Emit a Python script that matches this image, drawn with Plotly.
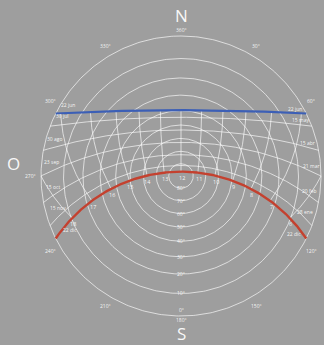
import numpy as np
import plotly.graph_objects as go

# ---- data ----
LATITUDE = -27.0  # southern-hemisphere site
DATE_LEFT = ["22 jun", "30 jul", "30 ago", "23 sep", "15 oct", "15 nov", "22 dic"]
DATE_RIGHT = ["22 jun", "15 may", "15 abr", "21 mar", "20 feb", "28 ene", "22 dic"]
DECLINATIONS = [23.44, 18.5, 9.4, 0.0, -9.7, -18.4, -23.44]
HOURS = [6, 7, 8, 9, 10, 11, 12, 13, 14, 15, 16, 17, 18]
ALT_CIRCLES = [0, 10, 20, 30, 40, 50, 60, 70, 80]
ALT_LABELS = ["0°", "10°", "20°", "30°", "40°", "50°", "60°", "70°", "80°"]
AZ_TICKS = [0, 30, 60, 90, 120, 150, 180, 210, 240, 270, 300, 330]
AZ_LABELS = ["360°", "30°", "60°", "90°", "120°", "150°", "180°", "210°", "240°", "270°", "300°", "330°"]
CARDINALS = {"N": 0, "S": 180, "O": 270}

BG = "#9e9e9e"
GRID = "rgba(255,255,255,0.72)"
TXT = "rgba(255,255,255,0.92)"
BLUE = "#3c5fb6"
RED = "#c4412f"
LABEL_ALT = 5.0  # altitude along each date line where its label sits

phi = np.radians(LATITUDE)


def sun(dec_deg, ha_deg):
    d = np.radians(dec_deg)
    h = np.radians(ha_deg)
    s_alt = np.sin(phi) * np.sin(d) + np.cos(phi) * np.cos(d) * np.cos(h)
    alt = np.degrees(np.arcsin(np.clip(s_alt, -1, 1)))
    az = np.degrees(np.arctan2(-np.sin(h) * np.cos(d),
                               np.cos(phi) * np.sin(d) - np.sin(phi) * np.cos(d) * np.cos(h)))
    return alt, az % 360


def proj(alt, az):
    r = np.tan(np.radians(90 - np.asarray(alt)) / 2)
    a = np.radians(az)
    return r * np.sin(a), r * np.cos(a)


def hour_angle_at(dec, alt):
    d = np.radians(dec)
    c = (np.sin(np.radians(alt)) - np.sin(phi) * np.sin(d)) / (np.cos(phi) * np.cos(d))
    return np.degrees(np.arccos(np.clip(c, -1, 1)))


fig = go.Figure()

# altitude circles
t = np.linspace(0, 360, 361)
for alt in ALT_CIRCLES:
    x, y = proj(np.full_like(t, alt), t)
    fig.add_trace(go.Scatter(x=x, y=y, mode="lines", line=dict(color=GRID, width=0.9),
                             hoverinfo="skip", showlegend=False))

# hour lines
for hr in HOURS:
    ha = 15 * (hr - 12)
    decs = np.linspace(-23.44, 23.44, 300)
    alt, az = sun(decs, np.full_like(decs, ha))
    keep = alt >= 0
    x, y = proj(alt[keep], az[keep])
    if not keep.all():
        dh = np.degrees(np.arctan(-np.cos(phi) * np.cos(np.radians(ha)) / np.sin(phi)))
        a0, z0 = sun(dh, ha)
        x0, y0 = proj(0.0, z0)
        if keep[0]:
            x, y = np.append(x, x0), np.append(y, y0)
        else:
            x, y = np.insert(x, 0, x0), np.insert(y, 0, y0)
    fig.add_trace(go.Scatter(x=x, y=y, mode="lines", line=dict(color=GRID, width=0.9),
                             hoverinfo="skip", showlegend=False))

# date lines
for i, dec in enumerate(DECLINATIONS):
    hs = hour_angle_at(dec, 0.0)
    ha = np.linspace(-hs, hs, 361)
    alt, az = sun(np.full_like(ha, dec), ha)
    alt = np.clip(alt, 0, 90)
    x, y = proj(alt, az)
    if i == 0:
        col, w = BLUE, 2.2
    elif i == len(DECLINATIONS) - 1:
        col, w = RED, 2.4
    else:
        col, w = GRID, 0.9
    fig.add_trace(go.Scatter(x=x, y=y, mode="lines", line=dict(color=col, width=w),
                             hoverinfo="skip", showlegend=False))

ann = []
small = dict(family="Open Sans, Arial", size=5, color=TXT)

# date labels, placed near the horizon end of each date line
n = len(DECLINATIONS)
for i, (dec, lt, rt) in enumerate(zip(DECLINATIONS, DATE_LEFT, DATE_RIGHT)):
    hl = hour_angle_at(dec, LABEL_ALT)
    last = i == n - 1
    a, z = sun(dec, hl)          # west (afternoon) side
    xw, yw = proj(a, z)
    a, z = sun(dec, -hl)         # east (morning) side
    xe, ye = proj(a, z)
    ann.append(dict(x=float(xw), y=float(yw), text=lt, showarrow=False,
                    xshift=6 if last else -1, yshift=-2 if last else 8, font=small))
    ann.append(dict(x=float(xe), y=float(ye), text=rt, showarrow=False,
                    xshift=-4 if last else 2, yshift=-6 if last else 4, font=small))

# hour labels along the 22 dic path
for hr in HOURS:
    alt, az = sun(DECLINATIONS[-1], 15 * (hr - 12))
    x, y = proj(alt, az)
    ann.append(dict(x=float(x), y=float(y), text=str(hr), showarrow=False, yshift=-6,
                    xshift=1, font=dict(family="Open Sans, Arial", size=5.5, color=TXT)))

# altitude labels (toward south)
for alt, lab in zip(ALT_CIRCLES, ALT_LABELS):
    x, y = proj(alt, 180)
    ann.append(dict(x=float(x), y=float(y), text=lab, showarrow=False, yshift=6 if alt == 0 else 0,
                    font=small))

# azimuth labels
for az, lab in zip(AZ_TICKS, AZ_LABELS):
    a = np.radians(az)
    r = {0: 1.04, 180: 1.025}.get(az, 1.075)
    ann.append(dict(x=r * np.sin(a), y=r * np.cos(a), text=lab, showarrow=False,
                    font=small))

# cardinal letters
for lab, az in CARDINALS.items():
    a = np.radians(az)
    r = {"N": 1.15, "S": 1.125, "O": 1.2}[lab]
    ann.append(dict(x=r * np.sin(a), y=r * np.cos(a) + (0.09 if lab == "O" else 0), text=lab,
                    showarrow=False, borderpad=0,
                    font=dict(family="Open Sans, Arial", size=17, color="rgba(255,255,255,0.95)")))

R = 140.0
cx, cy = 181.0, 176.0
fig.update_layout(
    width=324, height=345, margin=dict(l=0, r=0, t=0, b=0),
    paper_bgcolor=BG, plot_bgcolor=BG, annotations=ann,
    xaxis=dict(range=[-cx / R, (324 - cx) / R], visible=False, fixedrange=True),
    yaxis=dict(range=[-(345 - cy) / R, cy / R], visible=False, fixedrange=True,
               scaleanchor="x", scaleratio=1),
)

fig.write_html("out.html", config={"displayModeBar": False},
               post_script="document.body.style.margin='0';document.body.style.overflow='hidden';"
                           "document.body.style.background='" + BG + "';")
